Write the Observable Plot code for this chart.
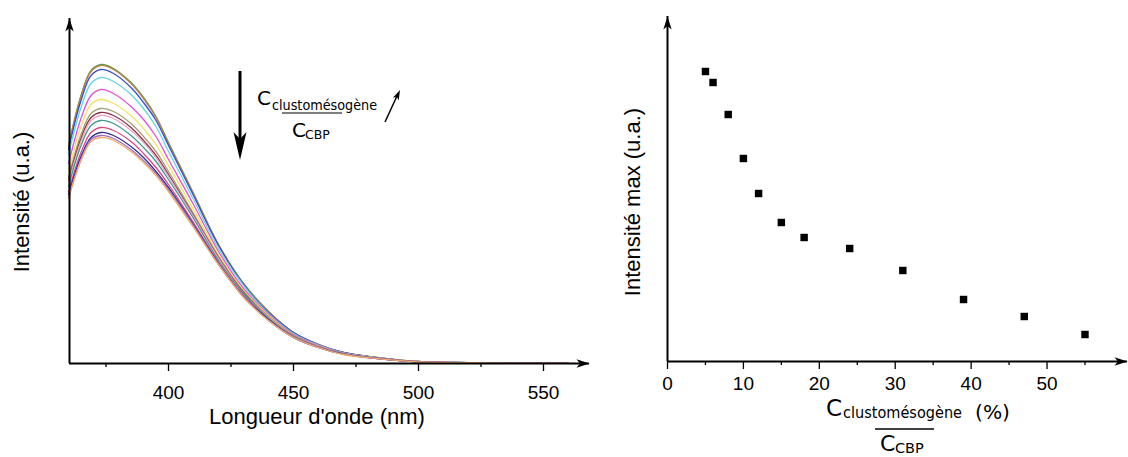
<!DOCTYPE html>
<html><head><meta charset="utf-8">
<script src="https://cdn.jsdelivr.net/npm/d3@7"></script>
<script src="https://cdn.jsdelivr.net/npm/@observablehq/plot@0.6"></script>
<style>
body{margin:0;background:#fff;}
#wrap{position:relative;width:1128px;height:457px;overflow:hidden;background:#fff;font-family:"Liberation Sans",Arial,sans-serif;}
.panel{position:absolute;top:0;}
.lbl{position:absolute;white-space:nowrap;font-size:22px;line-height:1;color:#000;}
</style></head><body>
<div id="wrap">
  <div id="left" class="panel" style="left:0"></div>
  <div id="right" class="panel" style="left:560px"></div>
  <div class="lbl" style="left:317px;top:417px;transform:translate(-50%,-50%)">Longueur d'onde (nm)</div>
  <div class="lbl" style="left:22px;top:202px;transform:translate(-50%,-50%) rotate(-90deg)">Intensité (u.a.)</div>
  <div class="lbl" style="left:633px;top:202px;transform:translate(-50%,-50%) rotate(-90deg)">Intensité max (u.a.)</div>
  <svg id="anno" width="1128" height="457" style="position:absolute;left:0;top:0;pointer-events:none" font-family="DejaVu Sans, sans-serif" fill="#000">
    <line x1="240" y1="71" x2="240" y2="150" stroke="#000" stroke-width="3"/>
    <path d="M240,160 L233.5,132 L240,139 L246.5,132 Z"/>
    <text x="257" y="105" font-size="20">C</text>
    <text x="272" y="109.5" font-size="14" textLength="105" lengthAdjust="spacingAndGlyphs">clustomésogène</text>
    <line x1="282" x2="342" y1="113" y2="113" stroke="#000" stroke-width="1.2"/>
    <text x="292" y="137" font-size="20">C</text>
    <text x="305" y="139" font-size="12.5">CBP</text>
    <line x1="385" y1="122" x2="397" y2="96" stroke="#000" stroke-width="1.5"/>
    <g transform="translate(400,90) rotate(25)"><path d="M0,0 L-3.2,10 L0,7.5 L3.2,10 Z"/></g>
    <text x="826" y="416" font-size="23">C</text>
    <text x="843" y="418" font-size="15" textLength="119" lengthAdjust="spacingAndGlyphs">clustomésogène</text>
    <line x1="875" x2="934" y1="429" y2="429" stroke="#000" stroke-width="1.3"/>
    <text x="880" y="451" font-size="22">C</text>
    <text x="895" y="453" font-size="14.5">CBP</text>
    <text x="975" y="419" font-size="20" textLength="35" lengthAdjust="spacingAndGlyphs">(%)</text>
  </svg>
</div>
<script>
// ---- Left panel: emission spectra ----
const wavelength = [360,365,369,373,378,385,390,395,400,410,420,430,440,450,460,470,480,490,500,520,540,560];
const seriesNames = ["s1","s2","s3","s4","s5","s6","s7","s8","s9","s10","s11","s12","s13","s14"];
const seriesColors = ["#5f9448","#b8834a","#3b4fc4","#62d6e6","#e052d8","#efe266","#a4a070","#8a3048","#f0a2c4","#3e9a8e","#de4482","#2e2e92","#9a6cc2","#f2aa66"];
const s1  = [218,268,293,299,295,281,266,247,221,170,119,80,52,31,19,11,7,4,2,0.9,0.5,0.3];
const s2  = [217,267,292,298,294,280,265,246,220,170,119,80,52,31,19,11,7,4,2,0.9,0.5,0.3];
const s3  = [214,263,288,294,290,276,261,243,218,168,118,79,51,31,19,11,6.9,4,2,0.9,0.5,0.3];
const s4  = [209,256,280,286,282,269,255,237,212,164,115,78,50,30,18.4,10.7,6.8,3.9,1.9,0.9,0.5,0.3];
const s5  = [200,245,268,274,270,257,244,227,204,159,112,75,49,29,17.9,10.4,6.6,3.8,1.9,0.85,0.47,0.28];
const s6  = [192,237,259,264,260,248,235,219,198,154,109,73,48,28,17.4,10.1,6.4,3.7,1.8,0.83,0.46,0.28];
const s7  = [186,229,250,255,252,240,227,212,192,150,107,72,47,28,17,9.9,6.3,3.6,1.8,0.81,0.45,0.27];
const s8  = [183,225,246,251,248,236,223,208,189,148,106,71,46,27.5,16.9,9.8,6.2,3.5,1.8,0.8,0.44,0.27];
const s9  = [181,222,243,248,245,233,221,206,187,147,105,70,46,27.3,16.7,9.7,6.2,3.5,1.8,0.79,0.44,0.26];
const s10 = [177,218,238,243,240,228,216,202,184,145,103,70,45,27,16.5,9.6,6.1,3.5,1.7,0.78,0.43,0.26];
const s11 = [172,211,231,236,233,222,210,196,179,141,101,68,44,26.4,16.2,9.4,6,3.4,1.7,0.77,0.43,0.26];
const s12 = [169,207,226,231,228,217,206,192,176,139,100,67,44,26,16,9.3,5.9,3.4,1.7,0.76,0.42,0.25];
const s13 = [166,204,224,228,225,214,203,190,174,138,99,67,43,25.9,15.8,9.2,5.8,3.3,1.7,0.75,0.42,0.25];
const s14 = [165,203,222,226,223,212,201,188,172,136,99,66,43,26,16,9,5.8,3.3,1.7,0.75,0.4,0.25];
const spectra = [s1,s2,s3,s4,s5,s6,s7,s8,s9,s10,s11,s12,s13,s14];
const xTicksMajorL = [400,450,500,550];
const xTicksMinorL = [375,425,475,525];

// ---- Right panel: max intensity vs ratio ----
const ratio = [5,6,8,10,12,15,18,24,31,39,47,55];
const intensityMax = [290,279,247,203,168,139,124,113,91,62,45,27];
const xTicksMajorR = [0,10,20,30,40,50];
const xTicksMinorR = [5,15,25,35,45,55];

// axis extents
const xDomL = [360.4, 568.4], yDomL = [0, 345];
const xDomR = [0, 60.6], yDomR = [0, 345];

const arrowHead = {draw(ctx){ ctx.moveTo(0,0); ctx.lineTo(4.2,13); ctx.lineTo(0,9.5); ctx.lineTo(-4.2,13); ctx.closePath(); }};

const tidy = spectra.flatMap((vals, k) => vals.map((v, i) => ({series: seriesNames[k], w: wavelength[i], v})));

const baseStyle = {fontFamily: "'Liberation Sans', Arial, sans-serif", fontSize: "19px", color: "#000", background: "transparent", overflow: "visible"};

const left = Plot.plot({
  width: 600, height: 457,
  marginLeft: 69, marginRight: 11, marginTop: 18, marginBottom: 94,
  x: {domain: xDomL},
  y: {domain: yDomL, axis: null},
  color: {domain: seriesNames, range: seriesColors},
  style: baseStyle,
  marks: [
    Plot.line(tidy, {x: "w", y: "v", z: "series", stroke: "series", strokeWidth: 1.3, curve: "catmull-rom"}),
    Plot.axisX({ticks: xTicksMinorL, tickSize: 4, tickFormat: () => "", label: null, strokeWidth: 1.3}),
    Plot.axisX({ticks: xTicksMajorL, tickSize: 8, tickPadding: 14, fontSize: 19, label: null, strokeWidth: 1.3}),
    Plot.ruleY([yDomL[0]], {x1: xDomL[0], x2: xDomL[1], strokeWidth: 2}),
    Plot.ruleX([xDomL[0]], {y1: yDomL[0], y2: yDomL[1], strokeWidth: 2}),
    Plot.dot([{x: xDomL[1], y: yDomL[0], r: 90}, {x: xDomL[0], y: yDomL[1], r: 0}], {x: "x", y: "y", rotate: "r", symbol: arrowHead, fill: "#000", stroke: null})
  ]
});
document.getElementById("left").appendChild(left);

const pts = ratio.map((c, i) => ({c, v: intensityMax[i]}));
const right = Plot.plot({
  width: 568, height: 457,
  marginLeft: 107, marginRight: 1, marginTop: 16, marginBottom: 96,
  x: {domain: xDomR},
  y: {domain: yDomR, axis: null},
  style: baseStyle,
  marks: [
    Plot.axisX({ticks: xTicksMinorR, tickSize: 4, tickFormat: () => "", label: null, strokeWidth: 1.3}),
    Plot.axisX({ticks: xTicksMajorR, tickSize: 8, tickPadding: 7, fontSize: 19, label: null, strokeWidth: 1.3}),
    Plot.ruleY([yDomR[0]], {x1: xDomR[0], x2: xDomR[1], strokeWidth: 2}),
    Plot.ruleX([xDomR[0]], {y1: yDomR[0], y2: yDomR[1], strokeWidth: 2}),
    Plot.dot([{x: xDomR[1], y: yDomR[0], r: 90}, {x: xDomR[0], y: yDomR[1], r: 0}], {x: "x", y: "y", rotate: "r", symbol: arrowHead, fill: "#000", stroke: null}),
    Plot.dot(pts, {x: "c", y: "v", symbol: "square", r: 4.2, fill: "#000", stroke: null})
  ]
});
document.getElementById("right").appendChild(right);
</script>
</body></html>
